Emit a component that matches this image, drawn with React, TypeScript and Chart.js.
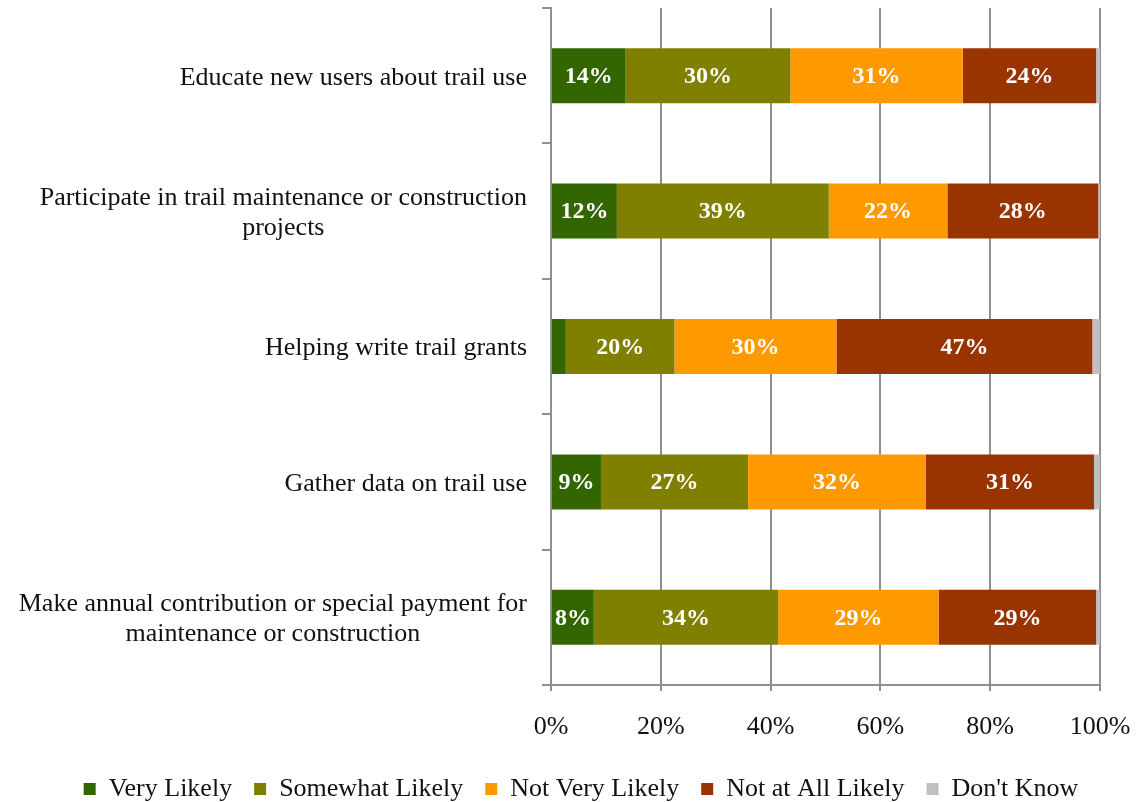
import React, { useEffect, useRef } from "react";
import { Chart, registerables } from "chart.js";

Chart.register(...registerables);

const categories: (string | string[])[] = [
  ["Educate new users about trail use"],
  ["Participate in trail maintenance or construction", "projects"],
  ["Helping write trail grants"],
  ["Gather data on trail use"],
  ["Make annual contribution or special payment for", "maintenance or construction"],
];

const seriesNames = ["Very Likely", "Somewhat Likely", "Not Very Likely", "Not at All Likely", "Don't Know"];
const veryLikely = [13.6, 12.0, 2.7, 9.1, 7.8];
const somewhatLikely = [30.0, 38.6, 19.8, 26.8, 33.6];
const notVeryLikely = [31.4, 21.6, 29.5, 32.4, 29.2];
const notAtAllLikely = [24.3, 27.5, 46.6, 30.6, 28.7];
const dontKnow = [0.7, 0.3, 1.4, 1.1, 0.7];
const seriesColors = ["#336600", "#808000", "#FF9900", "#993300", "#C0C0C0"];
const xTicks = [0, 20, 40, 60, 80, 100];

const FONT = "'Liberation Serif', 'Times New Roman', serif";
const GRID = "#8f8f8f";

const barLabelPlugin = {
  id: "barLabels",
  afterDatasetsDraw(chart: any) {
    const ctx = chart.ctx;
    ctx.save();
    ctx.font = `bold 24px ${FONT}`;
    ctx.fillStyle = "#ffffff";
    ctx.textAlign = "center";
    ctx.textBaseline = "middle";
    chart.data.datasets.forEach((ds: any, di: number) => {
      if (di === 4) return;
      const meta = chart.getDatasetMeta(di);
      meta.data.forEach((el: any, j: number) => {
        const v = ds.data[j];
        if (v < 5) return;
        const c = el.getCenterPoint();
        ctx.fillText(Math.round(v) + "%", c.x, c.y + 1);
      });
    });
    ctx.restore();
  },
};

const yLabelPlugin = {
  id: "yLabels",
  afterDraw(chart: any) {
    const ctx = chart.ctx;
    const y = chart.scales.y;
    ctx.save();
    ctx.font = `26px ${FONT}`;
    ctx.fillStyle = "#111111";
    ctx.textAlign = "center";
    ctx.textBaseline = "middle";
    const lineH = 30;
    chart.data.labels.forEach((lab: any, i: number) => {
      const lines: string[] = Array.isArray(lab) ? lab : [lab];
      const maxW = Math.max(...lines.map((l) => ctx.measureText(l).width));
      const cx = y.right - 24 - maxW / 2;
      const cy = y.getPixelForTick(i) + 2;
      const start = cy - ((lines.length - 1) * lineH) / 2;
      lines.forEach((l, k) => ctx.fillText(l, cx, start + k * lineH));
    });
    ctx.restore();
  },
};

export default function App() {
  const ref = useRef<HTMLCanvasElement>(null);
  useEffect(() => {
    document.body.style.margin = "0";
    const values = [veryLikely, somewhatLikely, notVeryLikely, notAtAllLikely, dontKnow];
    const chart = new Chart(ref.current!, {
      type: "bar",
      data: {
        labels: categories,
        datasets: values.map((d, i) => ({
          label: seriesNames[i],
          data: d,
          backgroundColor: seriesColors[i],
          borderWidth: 0,
          barPercentage: 0.406,
          categoryPercentage: 1,
        })),
      },
      options: {
        indexAxis: "y",
        responsive: false,
        animation: false,
        devicePixelRatio: 1,
        layout: { padding: { top: 8, right: 0, left: 21, bottom: 0 } },
        plugins: {
          tooltip: { enabled: false },
          legend: {
            position: "bottom",
            maxHeight: 48,
            labels: {
              boxWidth: 12,
              boxHeight: 12,
              padding: 22,
              color: "#111111",
              font: { family: FONT, size: 26 },
            },
          },
        },
        scales: {
          x: {
            stacked: true,
            min: 0,
            max: 100,
            afterBuildTicks: (s: any) => {
              s.ticks = xTicks.map((v) => ({ value: v }));
            },
            afterFit: (s: any) => {
              s.height = 69;
              s.paddingLeft = 0;
              s.paddingRight = 41;
            },
            ticks: {
              color: "#111111",
              font: { family: FONT, size: 26 },
              padding: 21,
              callback: (v: any) => v + "%",
            },
            grid: { color: GRID, lineWidth: 2, tickLength: 6, drawTicks: true },
            border: { color: GRID, width: 2 },
          },
          y: {
            stacked: true,
            afterFit: (s: any) => {
              s.width = 530;
            },
            ticks: { display: false },
            grid: { color: GRID, lineWidth: 2, drawOnChartArea: false, tickLength: 9, offset: true },
            border: { color: GRID, width: 2 },
          },
        },
      },
      plugins: [barLabelPlugin, yLabelPlugin],
    } as any);
    return () => chart.destroy();
  }, []);
  return (
    <div style={{ width: 1141, height: 802 }}>
      <canvas ref={ref} width={1141} height={802} style={{ width: 1141, height: 802, display: "block" }} />
    </div>
  );
}
